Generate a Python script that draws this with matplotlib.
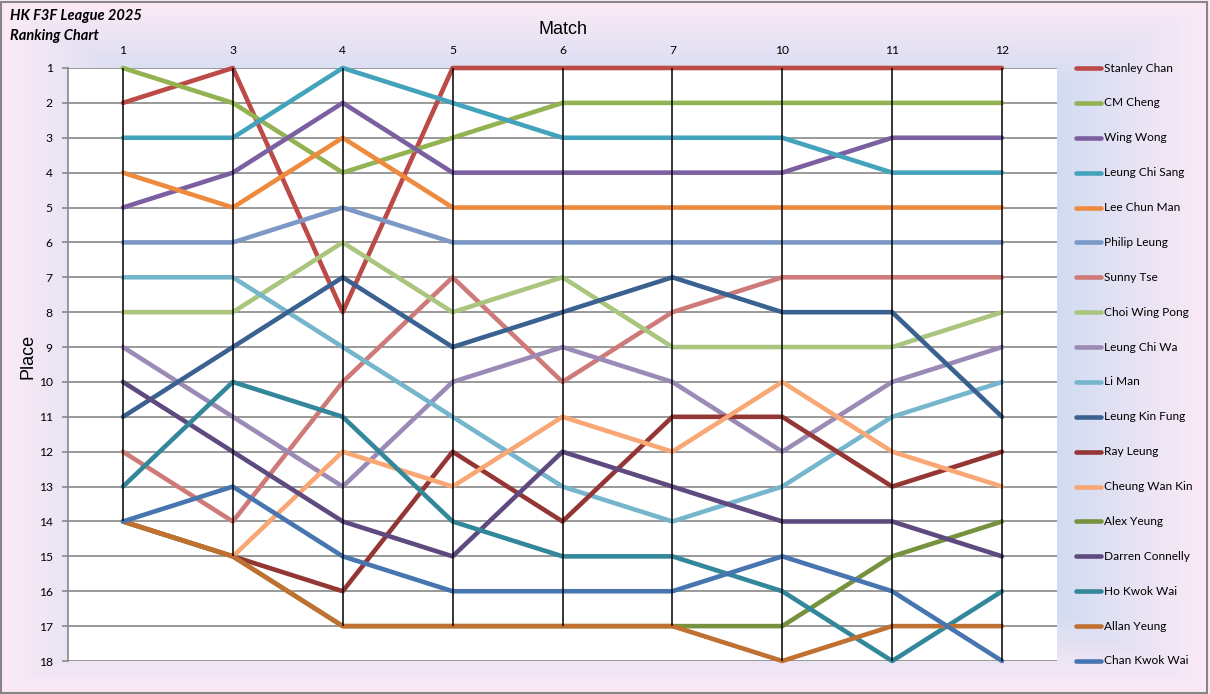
import numpy as np
import matplotlib
matplotlib.use("Agg")
import matplotlib.pyplot as plt
from matplotlib.transforms import blended_transform_factory
from matplotlib.patches import Rectangle

# ---------------- data ----------------
matches = ["1", "3", "4", "5", "6", "7", "10", "11", "12"]
places = list(range(1, 19))

players = ["Stanley Chan", "CM Cheng", "Wing Wong", "Leung Chi Sang", "Lee Chun Man",
           "Philip Leung", "Sunny Tse", "Choi Wing Pong", "Leung Chi Wa", "Li Man",
           "Leung Kin Fung", "Ray Leung", "Cheung Wan Kin", "Alex Yeung",
           "Darren Connelly", "Ho Kwok Wai", "Allan Yeung", "Chan Kwok Wai"]

stanley_chan    = [2, 1, 8, 1, 1, 1, 1, 1, 1]
cm_cheng        = [1, 2, 4, 3, 2, 2, 2, 2, 2]
wing_wong       = [5, 4, 2, 4, 4, 4, 4, 3, 3]
leung_chi_sang  = [3, 3, 1, 2, 3, 3, 3, 4, 4]
lee_chun_man    = [4, 5, 3, 5, 5, 5, 5, 5, 5]
philip_leung    = [6, 6, 5, 6, 6, 6, 6, 6, 6]
sunny_tse       = [12, 14, 10, 7, 10, 8, 7, 7, 7]
choi_wing_pong  = [8, 8, 6, 8, 7, 9, 9, 9, 8]
leung_chi_wa    = [9, 11, 13, 10, 9, 10, 12, 10, 9]
li_man          = [7, 7, 9, 11, 13, 14, 13, 11, 10]
leung_kin_fung  = [11, 9, 7, 9, 8, 7, 8, 8, 11]
ray_leung       = [14, 15, 16, 12, 14, 11, 11, 13, 12]
cheung_wan_kin  = [14, 15, 12, 13, 11, 12, 10, 12, 13]
alex_yeung      = [14, 15, 17, 17, 17, 17, 17, 15, 14]
darren_connelly = [10, 12, 14, 15, 12, 13, 14, 14, 15]
ho_kwok_wai     = [13, 10, 11, 14, 15, 15, 16, 18, 16]
allan_yeung     = [14, 15, 17, 17, 17, 17, 18, 17, 17]
chan_kwok_wai   = [14, 13, 15, 16, 16, 16, 15, 16, 18]

series = [stanley_chan, cm_cheng, wing_wong, leung_chi_sang, lee_chun_man,
          philip_leung, sunny_tse, choi_wing_pong, leung_chi_wa, li_man,
          leung_kin_fung, ray_leung, cheung_wan_kin, alex_yeung,
          darren_connelly, ho_kwok_wai, allan_yeung, chan_kwok_wai]

colors = ["#BC4A47", "#93B251", "#7C5FA0", "#44A3BC", "#EE8A3D",
          "#7B98C6", "#CE7A78", "#AAC67E", "#9C8AB6", "#76B6CC",
          "#3B6191", "#933634", "#F8A775", "#77923E",
          "#5E4A7E", "#33879A", "#C07030", "#4675B0"]

# ---------------- figure ----------------
W, H = 1210, 694
fig = plt.figure(figsize=(W / 100, H / 100), dpi=100)

# background gradient (rectangular, from center)
bg = fig.add_axes([0, 0, 1, 1], zorder=-10)
yy, xx = np.mgrid[0:H, 0:W]
t = np.maximum(np.abs(xx - W / 2) / (W / 2), np.abs(yy - H / 2) / (H / 2))
s = np.clip((t - 0.68) / 0.32, 0, 1)[..., None]
c0 = np.array([0xC6, 0xD8, 0xF0]) / 255
c1 = np.array([0xFD, 0xEA, 0xF6]) / 255
img = c0 * (1 - s) + c1 * s
bg.imshow(img, aspect="auto", extent=[0, 1, 0, 1], origin="upper")
bg.set_axis_off()
bg.add_patch(Rectangle((0.001, 0.002), 0.9965, 0.995, transform=bg.transAxes,
                       fill=False, edgecolor="#868686", linewidth=1.5))

L, R, T, B = 68, 1057, 68, 661
ax = fig.add_axes([L / W, 1 - B / H, (R - L) / W, (B - T) / H])
ax.set_facecolor("white")

x = np.arange(len(matches))
for i, (vals, col) in enumerate(zip(series, colors)):
    ax.plot(x, vals, color=col, lw=3.3, solid_capstyle="round",
            solid_joinstyle="round", zorder=3 + i * 0.01, clip_on=False)

# high-low lines
arr = np.array(series)
ax.vlines(x, arr.min(axis=0), arr.max(axis=0), color="black", lw=1.1, zorder=5)

ax.set_xlim(-0.5, len(matches) - 0.5)
ax.set_ylim(18, 1)
ax.set_yticks(places)
ax.set_yticklabels([str(p) for p in places], fontsize=8.7, family="Lato")
ax.yaxis.grid(True, color="#888888", lw=1.2, zorder=0)
ax.set_axisbelow(True)
ax.tick_params(axis="y", length=4, color="#888888", pad=7, width=1.2)

ax.xaxis.tick_top()
ax.set_xticks(x)
ax.set_xticklabels(matches, fontsize=8.7, family="Lato")
ax.tick_params(axis="x", length=0, pad=9)

for side in ["top", "right", "bottom"]:
    ax.spines[side].set_visible(False)
ax.spines["left"].set_color("#888888")
ax.spines["left"].set_linewidth(1.2)

# axis titles
fig.text((L + R) / 2 / W, 1 - 29 / H, "Match", ha="center", va="center",
         fontsize=13, family="Liberation Sans")
fig.text(28 / W, 1 - 356 / H, "Place", ha="center", va="center", rotation=90,
         fontsize=13, family="Liberation Sans")

# chart title
fig.text(10 / W, 1 - 16 / H, "HK F3F League 2025", ha="left", va="center",
         fontsize=10.5, family="Lato", fontweight="bold", style="italic")
fig.text(10 / W, 1 - 36 / H, "Ranking Chart", ha="left", va="center",
         fontsize=10.5, family="Lato", fontweight="bold", style="italic")

# legend (one entry per place row)
tr = blended_transform_factory(ax.transAxes, ax.transData)
hx0 = (1076 - L) / (R - L)
hx1 = (1101 - L) / (R - L)
tx = (1104 - L) / (R - L)
for i, (name, col) in enumerate(zip(players, colors)):
    yv = places[i]
    ax.plot([hx0, hx1], [yv, yv], color=col, lw=3.3, solid_capstyle="round",
            transform=tr, clip_on=False)
    ax.text(tx, yv, name, transform=tr, ha="left", va="center",
            fontsize=8.6, family="Lato")

fig.savefig("out.png", dpi=100)
